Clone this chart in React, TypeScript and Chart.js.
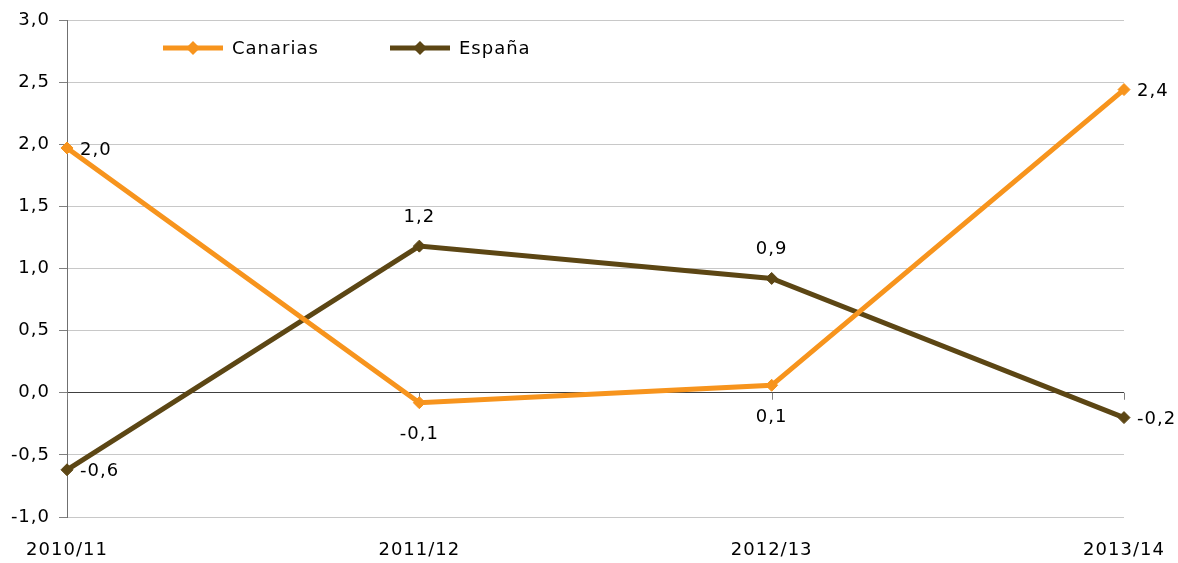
import React, { useEffect, useRef } from 'react';
import { Chart, registerables } from 'chart.js';

Chart.register(...registerables);

const categories = ['2010/11', '2011/12', '2012/13', '2013/14'];
const seriesNames = ['Canarias', 'España'];
const canarias = [1.97, -0.08, 0.06, 2.44];
const espana = [-0.62, 1.18, 0.92, -0.2];
const canariasLabelPos = ['right', 'below', 'below', 'right'];
const espanaLabelPos = ['right', 'above', 'above', 'right'];
const yMin = -1;
const yMax = 3;
const yStep = 0.5;

const COLORS = ['#F7941D', '#5C4614'];
const FONT_FAMILY = '"DejaVu Sans", Verdana, sans-serif';
const FONT_SIZE = 18;
const LETTER_SPACING = '1px';

const fmt = (v: number) => v.toFixed(1).replace('.', ',');

const spacingPlugin = {
  id: 'spacing',
  beforeUpdate(chart: any) {
    chart.ctx.letterSpacing = LETTER_SPACING;
  },
  beforeLayout(chart: any) {
    chart.ctx.letterSpacing = LETTER_SPACING;
  },
  beforeDraw(chart: any) {
    chart.ctx.letterSpacing = LETTER_SPACING;
  },
};

const xTicksPlugin = {
  id: 'xTicksAtZero',
  beforeDatasetsDraw(chart: any) {
    const { ctx, scales } = chart;
    const y0 = scales.y.getPixelForValue(0);
    ctx.save();
    ctx.strokeStyle = '#808080';
    ctx.lineWidth = 1;
    for (let i = 0; i < categories.length; i++) {
      const x = Math.round(scales.x.getPixelForValue(i)) + 0.5;
      ctx.beginPath();
      ctx.moveTo(x, y0);
      ctx.lineTo(x, y0 + 7);
      ctx.stroke();
    }
    ctx.restore();
  },
};

const dataLabelPlugin = {
  id: 'dataLabels',
  afterDatasetsDraw(chart: any) {
    const { ctx } = chart;
    const positions = [canariasLabelPos, espanaLabelPos];
    ctx.save();
    ctx.letterSpacing = LETTER_SPACING;
    ctx.font = `${FONT_SIZE}px ${FONT_FAMILY}`;
    ctx.fillStyle = '#000';
    chart.data.datasets.forEach((ds: any, di: number) => {
      const meta = chart.getDatasetMeta(di);
      meta.data.forEach((pt: any, i: number) => {
        const txt = fmt(ds.data[i]);
        const pos = positions[di][i];
        let x = pt.x;
        let y = pt.y;
        ctx.textBaseline = 'middle';
        if (pos === 'right') {
          ctx.textAlign = 'left';
          x += 13;
          y += 2;
        } else if (pos === 'below') {
          ctx.textAlign = 'center';
          y += 32;
        } else {
          ctx.textAlign = 'center';
          y -= 29;
        }
        ctx.fillText(txt, x, y);
      });
    });
    ctx.restore();
  },
};

const legendPlugin = {
  id: 'customLegend',
  afterDraw(chart: any) {
    const { ctx, chartArea } = chart;
    ctx.save();
    ctx.letterSpacing = LETTER_SPACING;
    ctx.font = `${FONT_SIZE}px ${FONT_FAMILY}`;
    chart.data.datasets.forEach((ds: any, i: number) => {
      const x0 = chartArea.left + 96 + i * 227;
      const y = chartArea.top + 28;
      ctx.strokeStyle = ds.borderColor;
      ctx.lineWidth = 5;
      ctx.beginPath();
      ctx.moveTo(x0, y);
      ctx.lineTo(x0 + 60, y);
      ctx.stroke();
      ctx.fillStyle = ds.borderColor;
      ctx.beginPath();
      const r = 7;
      ctx.moveTo(x0 + 30, y - r);
      ctx.lineTo(x0 + 30 + r, y);
      ctx.lineTo(x0 + 30, y + r);
      ctx.lineTo(x0 + 30 - r, y);
      ctx.closePath();
      ctx.fill();
      ctx.fillStyle = '#000';
      ctx.textAlign = 'left';
      ctx.textBaseline = 'middle';
      ctx.fillText(ds.label, x0 + 69, y + 1);
    });
    ctx.restore();
  },
};

export default function App() {
  const canvasRef = useRef<HTMLCanvasElement | null>(null);

  useEffect(() => {
    document.body.style.margin = '0';
    const canvas = canvasRef.current;
    if (!canvas) return;
    const chart = new Chart(canvas, {
      type: 'line',
      data: {
        labels: categories,
        datasets: [
          {
            label: seriesNames[0],
            data: canarias,
            borderColor: COLORS[0],
            backgroundColor: COLORS[0],
            borderWidth: 5,
            pointStyle: 'rectRot',
            pointRadius: 6,
            pointBorderWidth: 1,
            tension: 0,
          },
          {
            label: seriesNames[1],
            data: espana,
            borderColor: COLORS[1],
            backgroundColor: COLORS[1],
            borderWidth: 5,
            pointStyle: 'rectRot',
            pointRadius: 6,
            pointBorderWidth: 1,
            tension: 0,
          },
        ],
      },
      options: {
        responsive: false,
        animation: false,
        devicePixelRatio: 1,
        layout: { padding: { left: 0, right: 54, top: 20, bottom: 0 } },
        plugins: {
          legend: { display: false },
          tooltip: { enabled: false },
        },
        scales: {
          x: {
            offset: false,
            grid: { display: false, drawTicks: false },
            border: { display: false },
            ticks: {
              padding: 23,
              color: '#000',
              maxRotation: 0,
              font: { family: FONT_FAMILY, size: FONT_SIZE },
            },
            afterFit(scale: any) {
              scale.height = 46;
              scale.paddingLeft = 0;
              scale.paddingRight = 0;
            },
          },
          y: {
            min: yMin,
            max: yMax,
            grid: {
              color: (c: any) => (c.tick && c.tick.value === 0 ? '#404040' : '#C8C8C8'),
              tickColor: '#808080',
              tickLength: 8,
              drawTicks: true,
            },
            border: { display: true, color: '#707070' },
            ticks: {
              stepSize: yStep,
              padding: 9,
              color: '#000',
              font: { family: FONT_FAMILY, size: FONT_SIZE },
              callback: (v: any) => fmt(Number(v)),
            },
            afterFit(scale: any) {
              scale.width = 67;
              scale.paddingTop = 0;
              scale.paddingBottom = 0;
            },
          },
        },
      },
      plugins: [spacingPlugin, xTicksPlugin, dataLabelPlugin, legendPlugin],
    } as any);
    return () => chart.destroy();
  }, []);

  return <canvas ref={canvasRef} width={1178} height={563} style={{ display: 'block' }} />;
}
